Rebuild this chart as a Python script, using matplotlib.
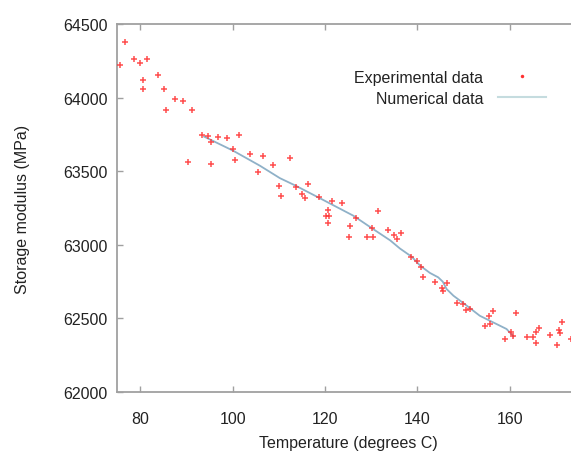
import matplotlib
matplotlib.use("Agg")
import matplotlib.pyplot as plt
from matplotlib.lines import Line2D

# Experimental data (temperature, storage modulus)
exp_temp = [75.6, 76.7, 78.6, 79.85, 81.5, 80.5, 80.5, 83.8, 85.1, 87.6, 89.3, 85.5,
            91.2, 90.4, 93.4, 94.6, 95.3, 95.4, 96.8, 98.7, 101.4, 100.0, 100.5, 103.8,
            106.5, 105.4, 108.8, 112.3, 110.0, 110.5, 113.6, 115.0, 116.4, 115.7, 118.7,
            121.4, 123.7, 120.6, 120.2, 120.8, 120.6, 126.6, 125.5, 125.2, 129.0, 130.4,
            130.2, 131.4, 133.7, 135.0, 135.6, 136.4, 138.5, 140.0, 140.7, 141.3, 143.8,
            145.3, 145.5, 146.3, 148.6, 149.9, 150.5, 151.4, 156.4, 155.6, 155.7, 154.6,
            161.3, 160.3, 160.8, 158.9, 163.7, 165.1, 165.6, 166.3, 165.7, 168.7, 170.7,
            170.9, 171.2, 170.2, 173.2]
exp_mod = [64221, 64376, 64260, 64237, 64262, 64122, 64060, 64156, 64060, 63991, 63979, 63916,
           63914, 63565, 63746, 63739, 63696, 63547, 63730, 63724, 63748, 63651, 63578, 63619,
           63605, 63493, 63542, 63590, 63402, 63334, 63391, 63347, 63413, 63320, 63327,
           63296, 63284, 63234, 63198, 63196, 63148, 63180, 63128, 63053, 63053, 63053,
           63112, 63231, 63099, 63069, 63037, 63078, 62919, 62888, 62851, 62783, 62745,
           62705, 62684, 62738, 62605, 62598, 62557, 62564, 62550, 62514, 62462, 62451,
           62539, 62410, 62383, 62360, 62376, 62376, 62406, 62435, 62331, 62390, 62424,
           62401, 62474, 62316, 62360]

# Numerical data
num_temp = [93.8, 100.1, 105.9, 110.2, 113.6, 118.9, 126.1, 130.4, 134.1, 136.2,
            138.8, 140.6, 142.7, 144.5, 145.5, 146.3, 147.8, 150.7, 153.5, 159.3, 160.8]
num_mod = [63735, 63639, 63537, 63453, 63402, 63316, 63198, 63107, 63030, 62975,
           62918, 62858, 62809, 62779, 62749, 62700, 62654, 62586, 62518, 62428, 62378]

x_ticks = [80, 100, 120, 140, 160]
y_ticks = [62000, 62500, 63000, 63500, 64000, 64500]

plt.rcParams['font.family'] = ['Liberation Sans', 'DejaVu Sans']

W, H = 571, 456
fig = plt.figure(figsize=(W / 100, H / 100), dpi=100)
ax = fig.add_axes([117.3 / W, (H - 393) / H, 461.75 / W, 368 / H])

red = '#ff3030'
line_col = '#8fb1c8'

ax.plot(exp_temp, exp_mod, linestyle='none', marker='+', markersize=5,
        markeredgewidth=1.1, color=red, alpha=0.85, zorder=3)
ax.plot(num_temp, num_mod, color=line_col, lw=1.3, zorder=2)

ax.set_xlim(75, 175)
ax.set_ylim(62000, 64500)
ax.set_xticks(x_ticks)
ax.set_yticks(y_ticks)

gray = '#a0a0a0'
for side in ['left', 'bottom', 'top']:
    ax.spines[side].set_color(gray)
    ax.spines[side].set_linewidth(1.3)
ax.spines['right'].set_visible(False)

ax.tick_params(axis='both', direction='in', length=4, width=1, color=gray,
               labelsize=11.5, labelcolor='#222222', pad=7)
ax.tick_params(axis='x', top=True, pad=14)

ax.set_xlabel('Temperature (degrees C)', fontsize=11.5, color='#222222', labelpad=6)
ax.set_ylabel('Storage modulus (MPa)', fontsize=11.5, color='#222222', labelpad=24)

handles = [
    Line2D([], [], linestyle='none', marker='o', markersize=2.5, color=red,
           markeredgewidth=0),
    Line2D([], [], color='#c5dcdf', lw=1.5),
]
leg = ax.legend(handles, ['Experimental data', 'Numerical data'],
                loc='upper right', bbox_to_anchor=(545.7 / W, (H - 71) / H),
                bbox_transform=fig.transFigure, frameon=False, markerfirst=False,
                fontsize=11.5, handlelength=3.0, handletextpad=0.9,
                borderpad=0, borderaxespad=0, labelspacing=0.35)
for t in leg.get_texts():
    t.set_color('#222222')

fig.savefig('out.png', dpi=100)
